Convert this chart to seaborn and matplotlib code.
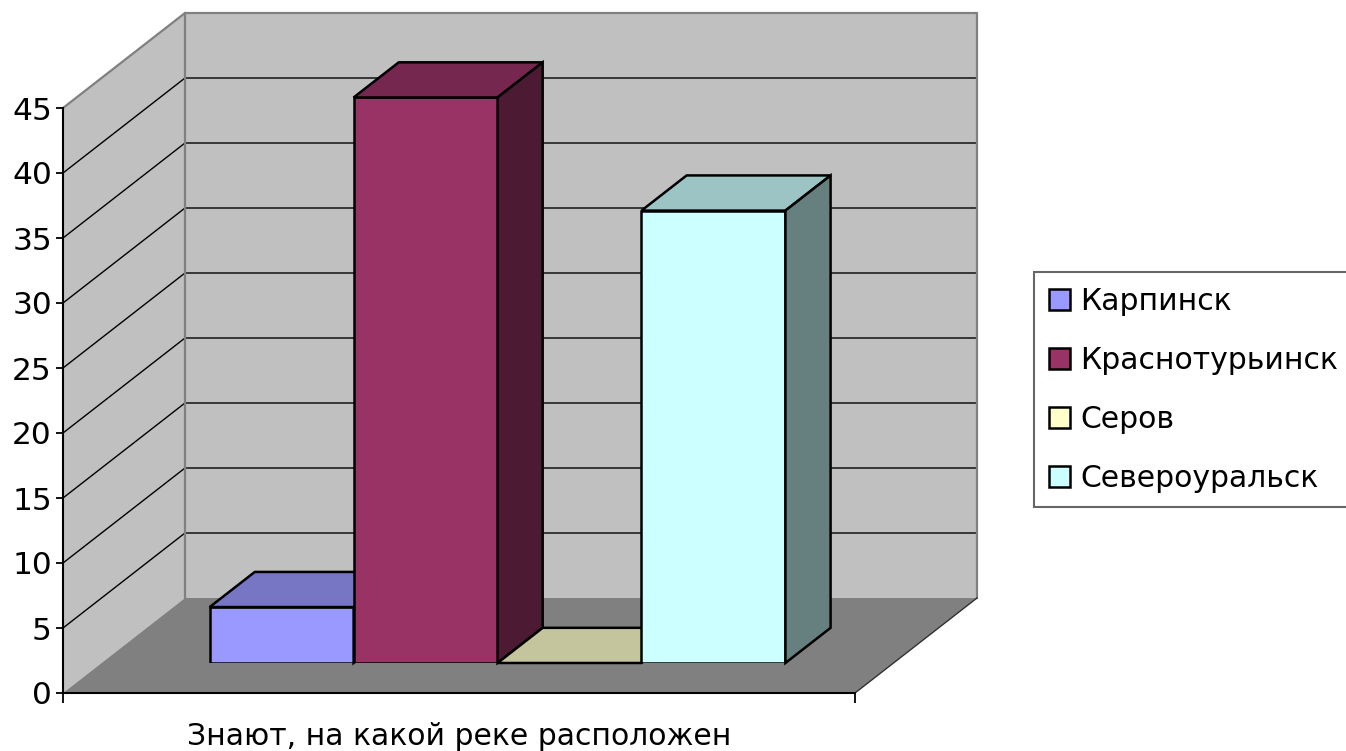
import matplotlib
matplotlib.use("Agg")
import numpy as np
import pandas as pd
import matplotlib.pyplot as plt
import matplotlib.colors as mcolors
from matplotlib.patches import Polygon, Patch
import seaborn as sns

# data
category = "Знают, на какой реке расположен"
cities = ["Карпинск", "Краснотурьинск", "Серов", "Североуральск"]
values = [4.3, 43.5, 0.0, 34.8]
bar_colors = ["#9999ff", "#993366", "#ffffcc", "#ccffff"]
y_ticks = list(range(0, 50, 5))

df = pd.DataFrame({"question": [category] * len(cities), "city": cities, "value": values})

W, H = 1346, 751
fig = plt.figure(figsize=(W / 100, H / 100), dpi=100)

# front plane of the 3d box, in pixels
x0, x1, y0, y_top = 63, 855, 693, 108
depth_px = (122, 95)
bar_front, bar_depth = 0.316, 0.37


def box(dx, dy):
    return [(x0 + dx) / W, (H - y0 + dy) / H, (x1 - x0) / W, (y0 - y_top) / H]


ax = fig.add_axes(box(0, 0))
ax.set_xlim(-0.5, 0.5)
ax.set_ylim(0, 45)
ax.patch.set_visible(False)
ux = 1 / (x1 - x0)
uy = 45 / (y0 - y_top)
ddx, ddy = depth_px[0] * ux, depth_px[1] * uy

kw = dict(clip_on=False)
# walls + floor
ax.fill([-0.5, -0.5, -0.5 + ddx, -0.5 + ddx], [0, 45, 45 + ddy, ddy],
        color="#c0c0c0", lw=0, zorder=0, **kw)
ax.fill([-0.5 + ddx, 0.5 + ddx, 0.5 + ddx, -0.5 + ddx], [ddy, ddy, 45 + ddy, 45 + ddy],
        color="#c0c0c0", lw=0, zorder=0, **kw)
ax.fill([-0.5, 0.5, 0.5 + ddx, -0.5 + ddx], [0, 0, ddy, ddy],
        color="#808080", lw=0, zorder=0, **kw)
for v in y_ticks[1:-1]:
    ax.plot([-0.5, -0.5 + ddx, 0.5 + ddx], [v, v + ddy, v + ddy],
            color="black", lw=1.0, zorder=1, **kw)
ax.plot([-0.5, -0.5 + ddx, 0.5 + ddx, 0.5 + ddx], [45, 45 + ddy, 45 + ddy, ddy],
        color="#808080", lw=1.6, zorder=1, **kw)
ax.plot([-0.5 + ddx] * 2, [ddy, 45 + ddy], color="#808080", lw=1.6, zorder=1, **kw)
ax.plot([0.5, 0.5 + ddx], [0, ddy], color="#303030", lw=1, zorder=1, **kw)

for s in ["top", "right"]:
    ax.spines[s].set_visible(False)
for s in ["left", "bottom"]:
    ax.spines[s].set_linewidth(1.5)
ax.set_yticks(y_ticks)
ax.tick_params(axis="y", labelsize=22.5, length=5, width=1.3, pad=3)
ax.set_xticks([-0.5, 0.5], ["", ""])
ax.tick_params(axis="x", which="major", length=7, width=1.3)
ax.set_xticks([0], [category], minor=True)
ax.tick_params(axis="x", which="minor", length=0, pad=21, labelsize=21.5)

# bars: front faces by seaborn, in a plane pushed back into the box
axb = fig.add_axes(box(bar_front * depth_px[0], bar_front * depth_px[1]))
sns.barplot(data=df, x="question", y="value", hue="city", hue_order=cities,
            palette=bar_colors, width=0.727, edgecolor="black", linewidth=1.8,
            saturation=1, legend=False, ax=axb)
axb.set_xlim(-0.5, 0.5)
axb.set_ylim(0, 45)
axb.axis("off")

bx = bar_depth * depth_px[0] * ux
by = bar_depth * depth_px[1] * uy
bars = sorted(axb.patches, key=lambda p: p.get_x())
for i, p in enumerate(bars):
    x, w, h = p.get_x(), p.get_width(), p.get_height()
    rgb = np.array(mcolors.to_rgb(p.get_facecolor()))
    p.set_zorder(3 + i)
    p.set_joinstyle("miter")
    top = [(x, h), (x + w, h), (x + w + bx, h + by), (x + bx, h + by)]
    side = [(x + w, 0), (x + w, h), (x + w + bx, h + by), (x + w + bx, by)]
    axb.add_patch(Polygon(top, closed=True, fc=rgb * 0.77, ec="black", lw=1.8,
                          zorder=3 + i, clip_on=False, joinstyle="miter"))
    axb.add_patch(Polygon(side, closed=True, fc=rgb * 0.5, ec="black", lw=1.8,
                          zorder=3 + i, clip_on=False, joinstyle="miter"))

handles = [Patch(facecolor=c, edgecolor="black", lw=1.8) for c in bar_colors]
leg = fig.legend(handles, cities, loc="upper left", bbox_to_anchor=(1034 / W, 1 - 272 / H),
                 fontsize=21.5, frameon=True, fancybox=False, edgecolor="#404040",
                 borderpad=0.5, labelspacing=1.0, handlelength=0.7, handleheight=0.7,
                 handletextpad=0.35, borderaxespad=0)
leg.get_frame().set_linewidth(1.5)

fig.savefig("out.png", dpi=100)
